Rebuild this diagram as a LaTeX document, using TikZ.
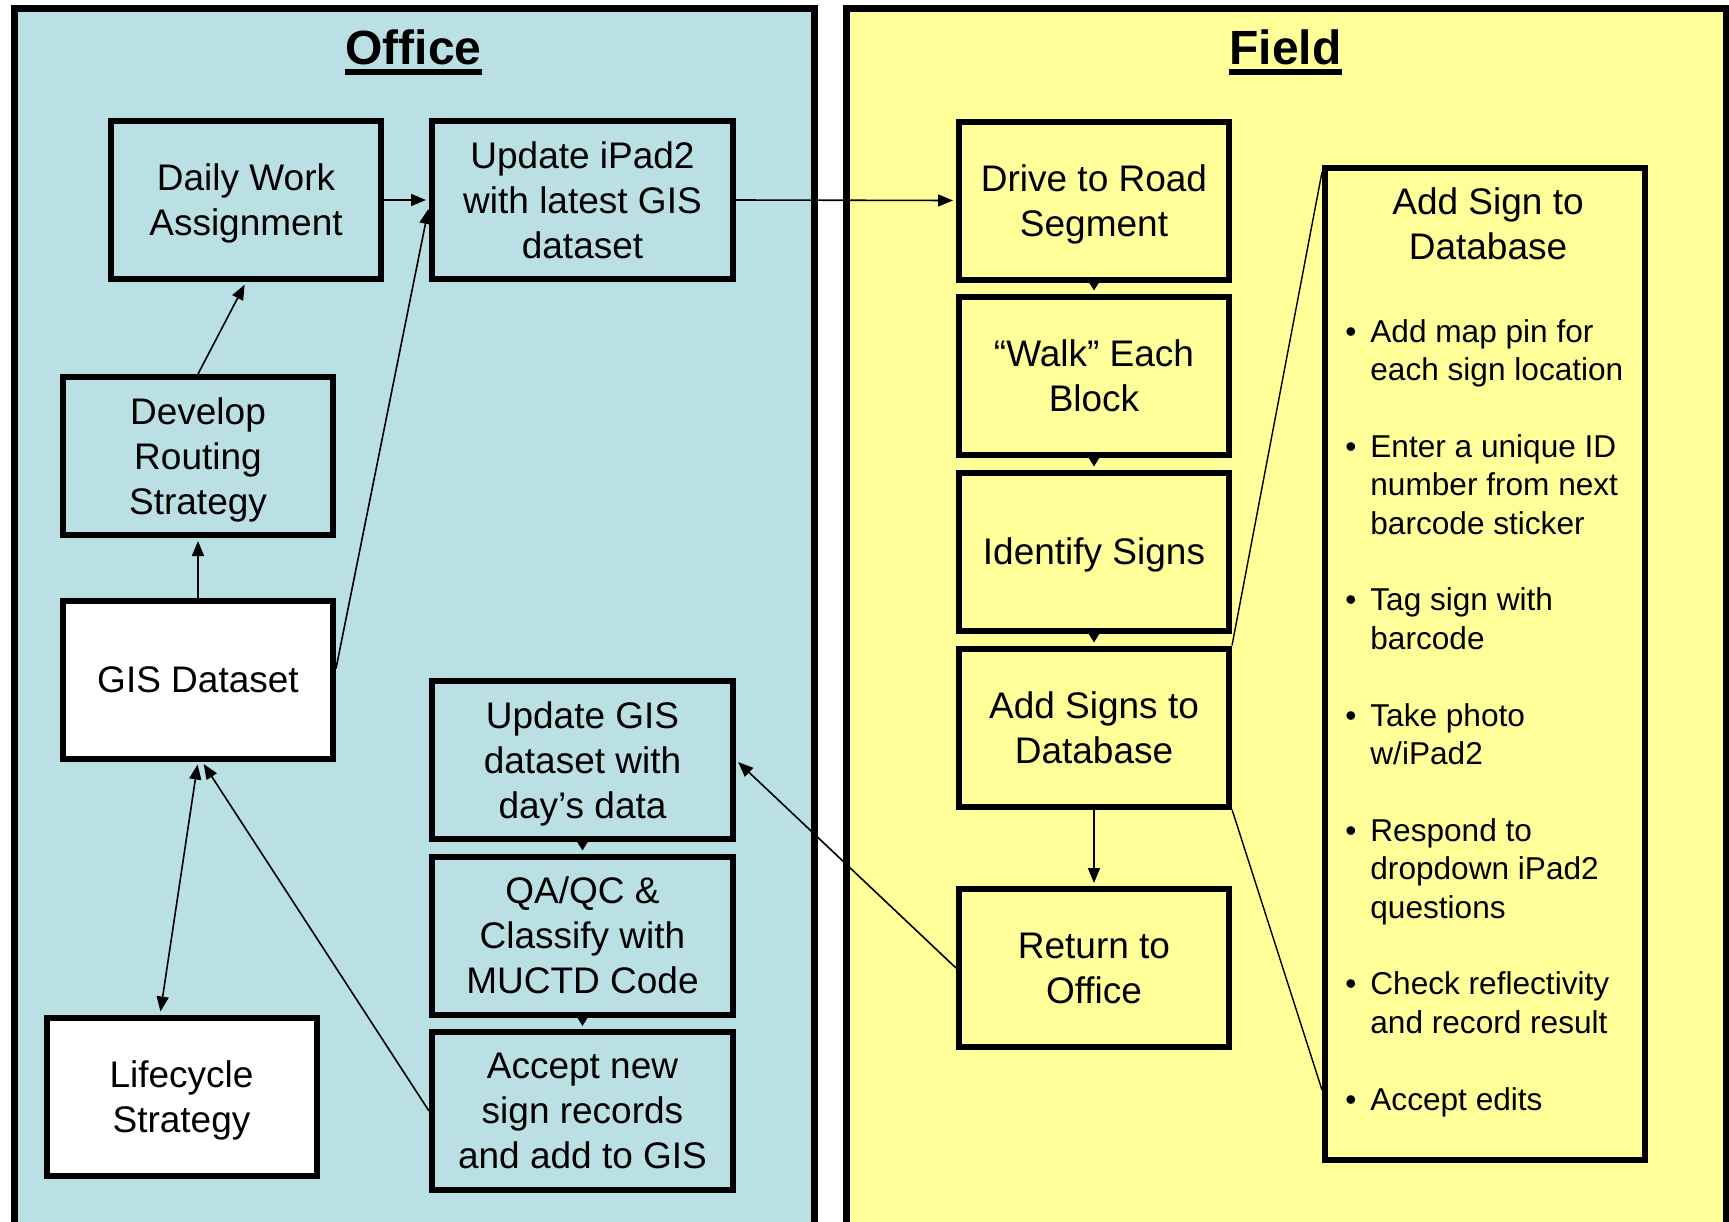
\documentclass[tikz,border=0pt]{standalone}
\usepackage{fontspec}
\setmainfont{Liberation Sans}
\usetikzlibrary{arrows.meta}
\definecolor{officeblue}{RGB}{187,224,227}
\definecolor{fieldyellow}{RGB}{255,255,153}
\newcommand{\boxfont}{\fontsize{18.5pt}{22.5pt}\selectfont}
\newcommand{\listfont}{\fontsize{15.8pt}{19.2pt}\selectfont}
\newcommand{\headfont}{\fontsize{24pt}{28pt}\selectfont\bfseries}
\tikzset{
        box/.style={align=center,inner sep=0pt,text depth=0pt,draw=black,line width=3pt,font=\boxfont,minimum width=135pt,minimum height=79pt},
        % Office steps
        box_office/.style={box, fill=officeblue},
        box_office_wide/.style={box_office, minimum width=150.5pt},
        % Datasets
        box_data/.style={box, fill=white},
        % Field steps
        box_field/.style={box, fill=fieldyellow},
        % Detail of adding a sign
        box_detail/.style={box, fill=fieldyellow, minimum width=159.75pt, minimum height=496pt},
        % Panels and headings
        panel_office/.style={fill=officeblue, draw=black, line width=3.5pt},
        panel_field/.style={fill=fieldyellow, draw=black, line width=3.5pt},
        heading/.style={font=\headfont, inner sep=0pt, anchor=base},
        detail_line/.style={font=\listfont, inner sep=0pt, anchor=base west},
        % Connectors
        link/.style={->, line width=0.8pt, shorten >=1.5pt},
        link_short/.style={-{Triangle[length=5pt,width=6pt]}, line width=0.8pt, shorten >=1.5pt},
        zoom_line/.style={line width=0.7pt}
}
\begin{document}
\begin{tikzpicture}[x=0.5pt, y=-0.5pt, >={Triangle[length=7.5pt,width=6pt]}]
\useasboundingbox (0,0) rectangle (1729,1221);
% Panels
\draw[panel_office] (14,8) rectangle (814,1240);
\draw[panel_field] (846,8) rectangle (1726,1240);
\node[heading] (office_title) at (413.5,64) {Office};
\node[heading] (field_title) at (1285.5,64) {Field};
\draw[line width=2.75pt] ([yshift=-4pt]office_title.base west) -- ([yshift=-4pt]office_title.base east);
\draw[line width=2.75pt] ([yshift=-4pt]field_title.base west) -- ([yshift=-4pt]field_title.base east);

% Office
\node[box_office] (daily) at (246,200) {Daily Work\\Assignment};
\node[box_office_wide] (ipad) at (582.5,200) {Update iPad2\\with latest GIS\\dataset};
\node[box_office] (routing) at (198,456) {Develop\\Routing\\Strategy};
\node[box_data] (gis) at (198,679.5) {GIS Dataset};
\node[box_data] (lifecycle) at (181.5,1096.5) {Lifecycle\\Strategy};
\node[box_office_wide] (update_gis) at (582.5,760) {Update GIS\\dataset with\\day’s data};
\node[box_office_wide] (qaqc) at (582.5,935.5) {QA/QC \&\\Classify with\\MUCTD Code};
\node[box_office_wide] (accept) at (582.5,1111) {Accept new\\sign records\\and add to GIS};

% Field
\node[box_field] (drive) at (1094,200.5) {Drive to Road\\Segment};
\node[box_field] (walk) at (1094,375.5) {“Walk” Each\\Block};
\node[box_field] (identify) at (1094,551.5) {Identify Signs};
\node[box_field] (add_signs) at (1094,727.5) {Add Signs to\\Database};
\node[box_field] (return) at (1094,968) {Return to\\Office};
\node[box_detail] (detail) at (1484.75,664) {};
\node[font=\boxfont, align=center, inner sep=0pt] (detail_title) at (1488,223.5) {Add Sign to\\Database};
\foreach \n/\txt in {0/Add map pin for, 1/each sign location,
        3/Enter a unique ID, 4/number from next, 5/barcode sticker,
        7/Tag sign with, 8/barcode,
        10/Take photo, 11/{w/iPad2},
        13/Respond to, 14/dropdown iPad2, 15/questions,
        17/Check reflectivity, 18/and record result,
        20/Accept edits}
    \node[detail_line] (line\n) at (1370,{342+38.4*\n}) {\txt};
\foreach \n in {0,3,7,10,13,17,20}
    \node[detail_line] (bullet\n) at (1345,{342+38.4*\n}) {\textbullet};

% Connectors
\draw[link] (daily.east) -- (ipad.west);
\draw[link] (ipad.east) -- (drive.west);
\draw[link] (routing.north) -- (daily.south);
\draw[link] (gis.north) -- (routing.south);
\draw[link] ([yshift=5.5pt]gis.east) -- ([yshift=-3pt]ipad.west);
\draw[<->, line width=0.8pt, shorten >=1.5pt, shorten <=1.5pt] (gis.south) -- ([xshift=-10.75pt]lifecycle.north);
\draw[link] (accept.west) -- ([xshift=2pt]gis.south);
\draw[link] (return.west) -- (update_gis.east);
\draw[link_short] (drive.south) -- (walk.north);
\draw[link_short] (walk.south) -- (identify.north);
\draw[link_short] (identify.south) -- (add_signs.north);
\draw[link] (add_signs.south) -- (return.north);
\draw[link_short] (update_gis.south) -- (qaqc.north);
\draw[link_short] (qaqc.south) -- (accept.north);
\draw[zoom_line] (add_signs.north east) -- ([yshift=-3.5pt]detail.north west);
\draw[zoom_line] (add_signs.south east) -- ([yshift=36.5pt]detail.south west);
\end{tikzpicture}
\end{document}
